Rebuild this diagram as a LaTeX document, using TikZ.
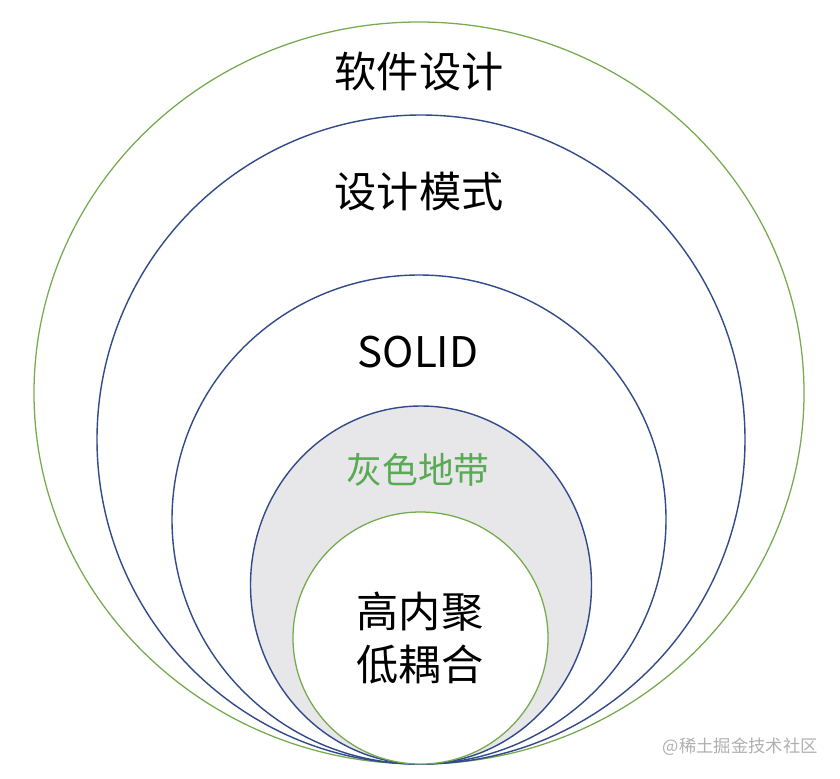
\documentclass[tikz,border=0pt]{standalone}
\usepackage{fontspec}
\setmainfont{Noto Sans CJK SC}
\usetikzlibrary{positioning}
\definecolor{RingGreen}{RGB}{118,170,78}
\definecolor{RingBlue}{RGB}{50,74,138}
\definecolor{GreyBand}{RGB}{231,230,232}
\definecolor{BandText}{RGB}{88,170,84}
\definecolor{MarkGrey}{RGB}{175,175,175}
\tikzset{
  greenring/.style={draw=RingGreen,line width=0.9pt},
  bluering/.style={draw=RingBlue,line width=1pt},
  ringlabel/.style={font=\fontsize{30}{38}\selectfont,align=center,inner sep=0pt},
  bandlabel/.style={font=\fontsize{25.5}{30}\selectfont,text=BandText,inner sep=0pt},
  marklabel/.style={font=\fontsize{12.3}{14}\selectfont,text=MarkGrey,inner sep=0pt}
}

\begin{document}
\begin{tikzpicture}[x=0.025cm,y=-0.025cm]
  \useasboundingbox (0,0) rectangle (840,778);
  % rings, all touching at the bottom
  \draw[greenring] (419,393) ellipse [x radius=385,y radius=371];
  \draw[bluering] (421,439.5) ellipse [x radius=324,y radius=324.5];
  \draw[bluering] (419,519.5) ellipse [x radius=247,y radius=244.5];
  \draw[bluering,fill=GreyBand] (421,585) ellipse [x radius=170.5,y radius=179];
  \draw[greenring,fill=white] (420.5,638) ellipse [x radius=127.5,y radius=126];
  % labels
  \node[ringlabel] (design) at (419,72) {软件设计};
  \node[ringlabel] (patterns) at (419,192) {设计模式};
  \node[ringlabel] (solid) at (418,352) {SOLID};
  \node[bandlabel] (grey) at (418,470) {灰色地带};
  \node[ringlabel] (core) at (420,638) {高内聚\\低耦合};
  \node[marklabel,anchor=east] (mark) at (818,747) {@稀土掘金技术社区};
\end{tikzpicture}
\end{document}
